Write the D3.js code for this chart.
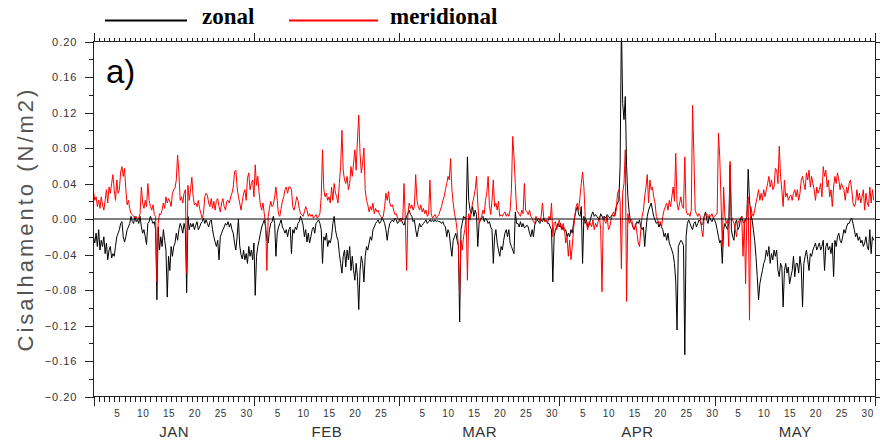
<!DOCTYPE html>
<html>
<head>
<meta charset="utf-8">
<script src="https://cdn.jsdelivr.net/npm/d3@7"></script>
<style>
  body { margin: 0; background: #fff; }
  svg { display: block; }
</style>
</head>
<body>
<svg id="chart" width="880" height="443"></svg>
<script>
// Wind stress components, 6-hourly (00, 06, 12, 18 UTC), 1 Jan - 31 May, N/m2
const zonal = [
  // JAN
  -.020,-.027,-.016,-.031, -.012,-.035,-.024,-.031, -.020,-.039,-.027,-.046, -.035,-.031,-.044,-.039, -.042,-.031,-.020,-.016,
  -.012,-.005,-.003,-.020, -.026,-.020,-.012,-.009, -.005,.003,-.003,-.005, .003,-.003,-.001,-.005, .003,-.009,-.016,-.012,
  -.020,-.029,-.005,-.003, .003,-.001,-.005,-.003, -.012,-.091,-.009,-.035, -.020,-.031,-.012,-.024, -.035,-.088,-.042,-.058,
  -.031,-.042,-.031,-.027, -.016,-.024,-.012,-.005, -.009,-.016,-.005,-.012, -.083,.003,-.012,-.005, -.009,-.005,-.012,-.007,
  -.003,-.012,-.009,-.005, -.003,.001,-.005,-.001, -.005,-.009,-.003,-.001, -.012,-.020,-.026,-.031, -.024,-.046,-.020,-.016,
  -.012,-.009,-.005,-.007, -.003,-.009,-.005,-.012, -.016,-.027,-.035,-.020, .000,-.030,-.040,-.045, -.035,-.046,-.039,-.050,
  -.031,-.042,-.035,-.046,
  // FEB
  -.027,-.086,-.042,-.031, -.024,-.016,-.009,-.005, -.001,-.009,-.024,-.027, -.012,-.005,-.003,.003, -.005,-.042,-.016,-.009,
  -.005,-.001,-.009,-.012, -.016,-.012,-.020,-.012, -.009,-.039,-.012,-.016, -.009,-.012,-.005,-.003, .003,-.001,-.007,-.020,
  -.012,-.026,-.016,-.027, -.020,-.012,-.009,-.016, -.005,-.003,-.001,-.005, -.012,-.050,-.020,-.024, -.016,-.031,-.024,-.027,
  -.020,-.005,.003,-.012, -.020,-.024,-.039,-.050, -.061,-.042,-.035,-.054, -.035,-.046,-.031,-.058, -.042,-.058,-.069,-.050,
  -.065,-.102,-.058,-.042, -.050,-.071,-.042,-.031, -.035,-.027,-.020,-.024, -.012,-.009,-.005,-.003, -.001,-.005,-.003,.001,
  -.001,-.005,-.012,-.024, -.012,-.005,-.003,-.001, -.003,.001,-.001,-.005,
  // MAR
  -.003,.001,-.001,-.005, -.007,-.001,.003,.006, .010,.005,.003,-.003, -.001,-.012,-.020,-.012, -.005,-.009,-.007,-.005,
  -.003,-.001,-.005,-.003, -.001,-.003,-.001,-.003, -.001,-.003,-.002,-.003, -.003,-.005,-.003,-.007, -.009,-.020,-.012,-.016,
  -.031,-.042,-.024,-.020, -.016,-.024,-.030,-.116, -.012,-.005,.003,.001, .003,.070,.021,.010, .006,.014,.003,.010,
  .005,-.031,-.005,-.001, .001,.003,-.003,.001, -.001,-.005,-.003,-.009, -.012,-.050,-.020,-.012, -.027,-.035,-.042,-.031,
  -.035,-.024,-.016,-.012, -.020,-.012,-.027,-.031, -.035,-.039,.008,-.005, -.005,-.009,-.003,-.009, -.005,-.010,-.009,-.007,
  -.009,-.016,-.020,-.012, -.020,-.007,-.003,-.001, -.003,-.005,-.001,-.003, .001,-.003,-.001,-.005, -.005,-.009,-.012,-.071,
  -.020,-.012,-.009,-.005,
  // APR
  -.009,-.005,-.012,-.009, -.014,-.012,-.020,-.016, -.020,-.012,-.016,-.005, .003,.010,.014,.005, .003,.014,-.050,.003,
  -.005,-.001,-.009,-.007, -.001,.005,.008,.003, .005,.003,.001,-.001, .006,.003,-.001,.003, .001,.005,.003,.001,
  .003,.005,.003,.006, .014,.018,.021,.059, .220,.130,.112,.138, .060,.025,.008,-.003, -.005,-.009,-.012,-.007,
  -.003,-.005,-.001,-.009, -.012,-.009,-.031,-.012, .003,.010,.014,.018, .010,.003,-.001,-.005, -.003,-.009,-.005,-.009,
  -.012,-.020,-.016,-.024, -.016,-.027,-.031,-.035, -.040,-.050,-.070,-.125, -.031,-.027,-.024,-.026, -.030,-.153,-.020,-.005,
  -.001,-.005,-.009,-.012, -.005,-.003,-.009,-.005, -.001,-.003,-.007,-.005, .003,.008,-.001,-.005, .003,-.001,-.003,.001,
  // MAY
  -.001,-.005,-.012,-.020, -.027,-.024,-.050,-.012, -.005,-.009,-.012,-.005, .061,-.012,-.020,-.024, -.005,-.001,-.012,-.009,
  -.001,.003,-.003,-.005, -.001,.003,.056,.021, .006,-.001,-.012,-.024, -.042,-.065,-.091,-.073, -.065,-.058,-.050,-.046,
  -.035,-.042,-.031,-.050, -.039,-.046,-.035,-.042, -.035,-.058,-.065,-.050, -.054,-.099,-.058,-.050, -.061,-.054,-.073,-.065,
  -.058,-.042,-.065,-.050, -.050,-.061,-.042,-.054, -.099,-.050,-.042,-.035, -.046,-.058,-.039,-.042, -.035,-.031,-.027,-.035,
  -.031,-.027,-.035,-.031, -.024,-.058,-.031,-.027, -.035,-.031,-.039,-.027, -.065,-.024,-.031,-.020, -.016,-.024,-.027,-.020,
  -.012,-.016,-.009,-.005, -.005,-.001,.001,-.005, -.012,-.020,-.016,-.024, -.020,-.027,-.024,-.031, -.027,-.020,-.031,-.035,
  -.012,-.039,-.020,-.024
];

const meridional = [
  // JAN
  .031,.021,.025,.014, .021,.012,.025,.016, .010,.021,.033,.018, .036,.029,.040,.050, .033,.021,.044,.029,
  .033,.053,.059,.048, .057,.033,.016,.021, .012,.006,.005,.003, .001,.003,-.001,.001, .006,.036,.018,.012,
  .021,.014,.040,.021, .014,.010,.016,.005, .003,-.071,-.005,.006, .005,.010,.018,.012, .025,.018,.023,.020,
  .014,.029,.033,.035, .044,.072,.052,.021, .025,.018,.029,.033, -.061,.038,.021,.033, .047,.025,.016,.018,
  .014,.021,.012,.006, .001,.006,.025,.029, .027,.018,.014,.023, .012,.020,.010,.021, .023,.014,.008,.018,
  .023,.014,.010,.020, .021,.018,.025,.029, .036,.053,.055,.036, .025,.018,.010,.020, .029,.033,.021,.046,
  .052,.033,.040,.044,
  // FEB
  .025,.061,.038,.048, .029,.016,.010,.018, .006,-.005,-.058,.003, .012,.020,.014,.016, .025,.036,.021,.005,
  .003,.012,.020,.025, .033,.036,.029,.036, .036,.033,.014,.010, .016,.025,.021,.012, .006,.005,.003,.008,
  .014,.010,.003,.006, .003,.005,.001,.003, .005,.001,.003,.006, .025,.078,.033,.025, .029,.021,.025,.018,
  .036,.021,.040,.029, .025,.018,.040,.059, .100,.055,.044,.040, .048,.033,.040,.059, .048,.063,.078,.055,
  .089,.117,.074,.052, .063,.080,.033,.021, .016,.008,.014,.010, .018,.006,.012,.008, .010,.005,.003,.001,
  .003,.014,.029,.021, .031,.018,.014,.016, .010,.005,.006,.001,
  // MAR
  -.001,-.003,.001,-.001, .040,-.001,-.058,.006, .018,.012,.016,.010, .014,.050,.021,.014, .010,.016,.008,.012,
  .006,.010,.003,.005, .044,.006,.001,.003, .005,.001,.003,.005, .010,.014,.021,.025, .033,.040,.048,.044,
  .068,.033,.018,.006, -.001,-.012,-.030,-.085, -.024,-.035,-.020,-.012, .003,-.069,.006,-.001, .010,.018,.025,.033,
  .048,.018,-.005,-.001, .003,.010,.006,.021, .030,.048,.015,.005, .021,.044,.014,.018, .010,.020,.003,.005,
  .003,.006,.008,.003, .006,.003,.010,.033, .093,.070,.040,.010, .008,.005,.003,.010, .006,.040,.010,.008,
  .005,.010,.003,.001, -.003,-.005,.003,-.001, .001,-.003,.003,.018, .001,-.003,-.001,-.005, .003,-.001,.018,-.020,
  -.005,-.003,-.012,-.007,
  // APR
  -.001,-.009,-.012,-.005, -.012,-.027,-.020,-.042, -.024,-.046,-.031,-.012, .003,.014,.018,.010, .025,.040,.053,.036,
  .003,-.005,-.012,-.003, -.005,-.009,-.001,-.012, -.005,-.009,-.003,.003, -.012,-.082,.003,-.001, -.005,.003,-.012,-.009,
  -.001,.005,.008,.003, .010,.029,.033,.020, -.056,.030,.040,.078, -.093,.006,-.005,-.001, -.001,-.009,-.012,-.005,
  -.016,-.027,-.031,-.012, .003,.010,.025,.036, .050,.018,.044,.033, .036,.025,.018,.003, -.001,-.005,-.003,-.009,
  .003,.010,.014,.018, .010,.021,.014,.025, .036,.020,.074,.018, .010,.018,.025,.014, .012,.070,.010,.005,
  .006,.003,.010,.128, .074,.010,.006,.003, .006,.003,-.012,-.020, .003,.005,.006,.001, .005,.003,.006,.001,
  // MAY
  .003,.005,.006,.097, .070,.021,-.031,.036, .003,-.005,-.001,-.031, .065,.003,-.001,-.005, -.012,-.020,-.005,-.001,
  .001,.003,-.042,-.001, -.073,.006,.025,-.114, .014,.006,.003,.010, .018,.025,.033,.021, .029,.021,.033,.025,
  .033,.040,.048,.036, .044,.033,.036,.057, .055,.040,.082,.048, .033,.014,.044,.025, .029,.021,.025,.027,
  .021,.029,.033,.025, .033,.021,.029,.044, .048,.040,.033,.052, .044,.055,.036,.048, .040,.033,.021,.036,
  .029,.033,.040,.025, .059,.048,.055,.036, .044,.025,.033,.014, .036,.048,.040,.052, .044,.033,.040,.036,
  .033,.021,.036,.029, .040,.044,.033,.018, .014,.018,.033,.021, .029,.018,.025,.033, .010,.029,.018,.014,
  .036,.018,.033,.021
];

const months = ["JAN", "FEB", "MAR", "APR", "MAY"];
const monthLengths = [31, 28, 31, 30, 31];
const dayLabels = [
  [5, 10, 15, 20, 25, 30],
  [5, 10, 15, 20, 25],
  [5, 10, 15, 20, 25, 30],
  [5, 10, 15, 20, 25, 30],
  [5, 10, 15, 20, 25, 30]
];
const yMajorTicks = [-0.20, -0.16, -0.12, -0.08, -0.04, 0.00, 0.04, 0.08, 0.12, 0.16, 0.20];
const yMinorTicks = [-0.18, -0.14, -0.10, -0.06, -0.02, 0.02, 0.06, 0.10, 0.14, 0.18];
const seriesNames = ["zonal", "meridional"];
const seriesColors = ["#000000", "#ff0000"];
const panelTag = "a)";
const yTitle = "Cisalhamento  (N/m2)";
const stepsPerDay = 4;

const svg = d3.select("#chart");
const sansFont = "'Liberation Sans', Arial, Helvetica, sans-serif";
const serifFont = "'Liberation Serif', 'Times New Roman', serif";

const plot = { left: 93.5, right: 875, top: 41.5, bottom: 396.5 };
const nDays = d3.sum(monthLengths);
const monthStarts = Array.from(d3.cumsum([0, ...monthLengths]));

const x = d3.scaleLinear().domain([0, nDays]).range([plot.left, plot.right]);
const y = d3.scaleLinear().domain([-0.2, 0.2]).range([plot.bottom, plot.top]);

// clip region for the series
svg.append("defs").append("clipPath").attr("id", "plotClip")
  .append("rect")
  .attr("x", plot.left).attr("y", plot.top)
  .attr("width", plot.right - plot.left).attr("height", plot.bottom - plot.top);

function addAxis(axis, tx, ty) {
  const g = svg.append("g").attr("transform", `translate(${tx},${ty})`).call(axis);
  g.select(".domain").remove();
  g.selectAll(".tick line").attr("stroke", "#222").attr("shape-rendering", "crispEdges");
  g.selectAll("text").attr("font-family", sansFont).attr("fill", "#333");
  return g;
}

// ---- x axes (bottom and top): daily minor ticks, monthly major ticks ----
const allDays = d3.range(0, nDays + 1);
addAxis(d3.axisBottom(x).tickValues(allDays).tickSize(5).tickFormat(""), 0, plot.bottom);
addAxis(d3.axisBottom(x).tickValues(monthStarts).tickSize(9).tickFormat(""), 0, plot.bottom);
addAxis(d3.axisTop(x).tickValues(allDays).tickSize(4).tickFormat(""), 0, plot.top);
addAxis(d3.axisTop(x).tickValues(monthStarts).tickSize(9).tickFormat(""), 0, plot.top);

// day-of-month labels, centred on each labelled day
const dayPos = [], dayText = [];
dayLabels.forEach((days, mi) => days.forEach(d => {
  dayPos.push(monthStarts[mi] + d - 0.5);
  dayText.push(String(d));
}));
addAxis(d3.axisBottom(x).tickValues(dayPos).tickSize(0).tickPadding(13)
  .tickFormat((d, i) => dayText[i]), 0, plot.bottom)
  .selectAll("text").attr("font-size", 10).attr("letter-spacing", 0.6);

// month names, centred on each month
const monthCenters = monthStarts.slice(0, -1).map((s, i) => s + monthLengths[i] / 2);
addAxis(d3.axisBottom(x).tickValues(monthCenters).tickSize(0).tickPadding(30)
  .tickFormat((d, i) => months[i]), 0, plot.bottom)
  .selectAll("text").attr("font-size", 15).attr("letter-spacing", 0.5);

// ---- y axes ----
addAxis(d3.axisLeft(y).tickValues(yMajorTicks).tickSize(9).tickPadding(7)
  .tickFormat(d3.format(".2f")), plot.left, 0)
  .selectAll("text").attr("font-size", 11).attr("letter-spacing", 1);
addAxis(d3.axisLeft(y).tickValues(yMinorTicks).tickSize(5).tickFormat(""), plot.left, 0);
addAxis(d3.axisRight(y).tickValues(yMajorTicks.concat(yMinorTicks)).tickSize(5).tickFormat(""), plot.right, 0);

// ---- series ----
const line = d3.line()
  .x((d, i) => x(i / stepsPerDay))
  .y(d => y(d));

const series = [zonal, meridional];
svg.append("g").attr("clip-path", "url(#plotClip)")
  .selectAll("path")
  .data(series)
  .join("path")
  .attr("d", d => line(d))
  .attr("fill", "none")
  .attr("stroke", (d, i) => seriesColors[i])
  .attr("stroke-width", 1)
  .attr("stroke-linejoin", "miter");

// zero reference line
svg.append("line")
  .attr("x1", plot.left).attr("x2", plot.right)
  .attr("y1", y(0)).attr("y2", y(0))
  .attr("stroke", "#000").attr("stroke-width", 1);

// plot frame
svg.append("rect")
  .attr("x", plot.left).attr("y", plot.top)
  .attr("width", plot.right - plot.left).attr("height", plot.bottom - plot.top)
  .attr("fill", "none").attr("stroke", "#222").attr("stroke-width", 1)
  .attr("shape-rendering", "crispEdges");

// panel tag
svg.append("text")
  .attr("x", 106).attr("y", 83)
  .attr("font-family", sansFont).attr("font-size", 33)
  .attr("fill", "#000")
  .text(panelTag);

// y-axis title
svg.append("text")
  .attr("transform", `translate(33,${y(0)}) rotate(-90)`)
  .attr("text-anchor", "middle")
  .attr("font-family", sansFont).attr("font-size", 22)
  .attr("letter-spacing", 3)
  .attr("fill", "#555")
  .text(yTitle);

// legend
const legend = [
  { x1: 105, x2: 187, tx: 202 },
  { x1: 289, x2: 378, tx: 390 }
];
legend.forEach((l, i) => {
  svg.append("line")
    .attr("x1", l.x1).attr("x2", l.x2).attr("y1", 20.5).attr("y2", 20.5)
    .attr("stroke", seriesColors[i]).attr("stroke-width", 2);
  svg.append("text")
    .attr("x", l.tx).attr("y", 24)
    .attr("font-family", serifFont).attr("font-weight", "bold").attr("font-size", 23)
    .attr("fill", "#000")
    .text(seriesNames[i]);
});
</script>
</body>
</html>
